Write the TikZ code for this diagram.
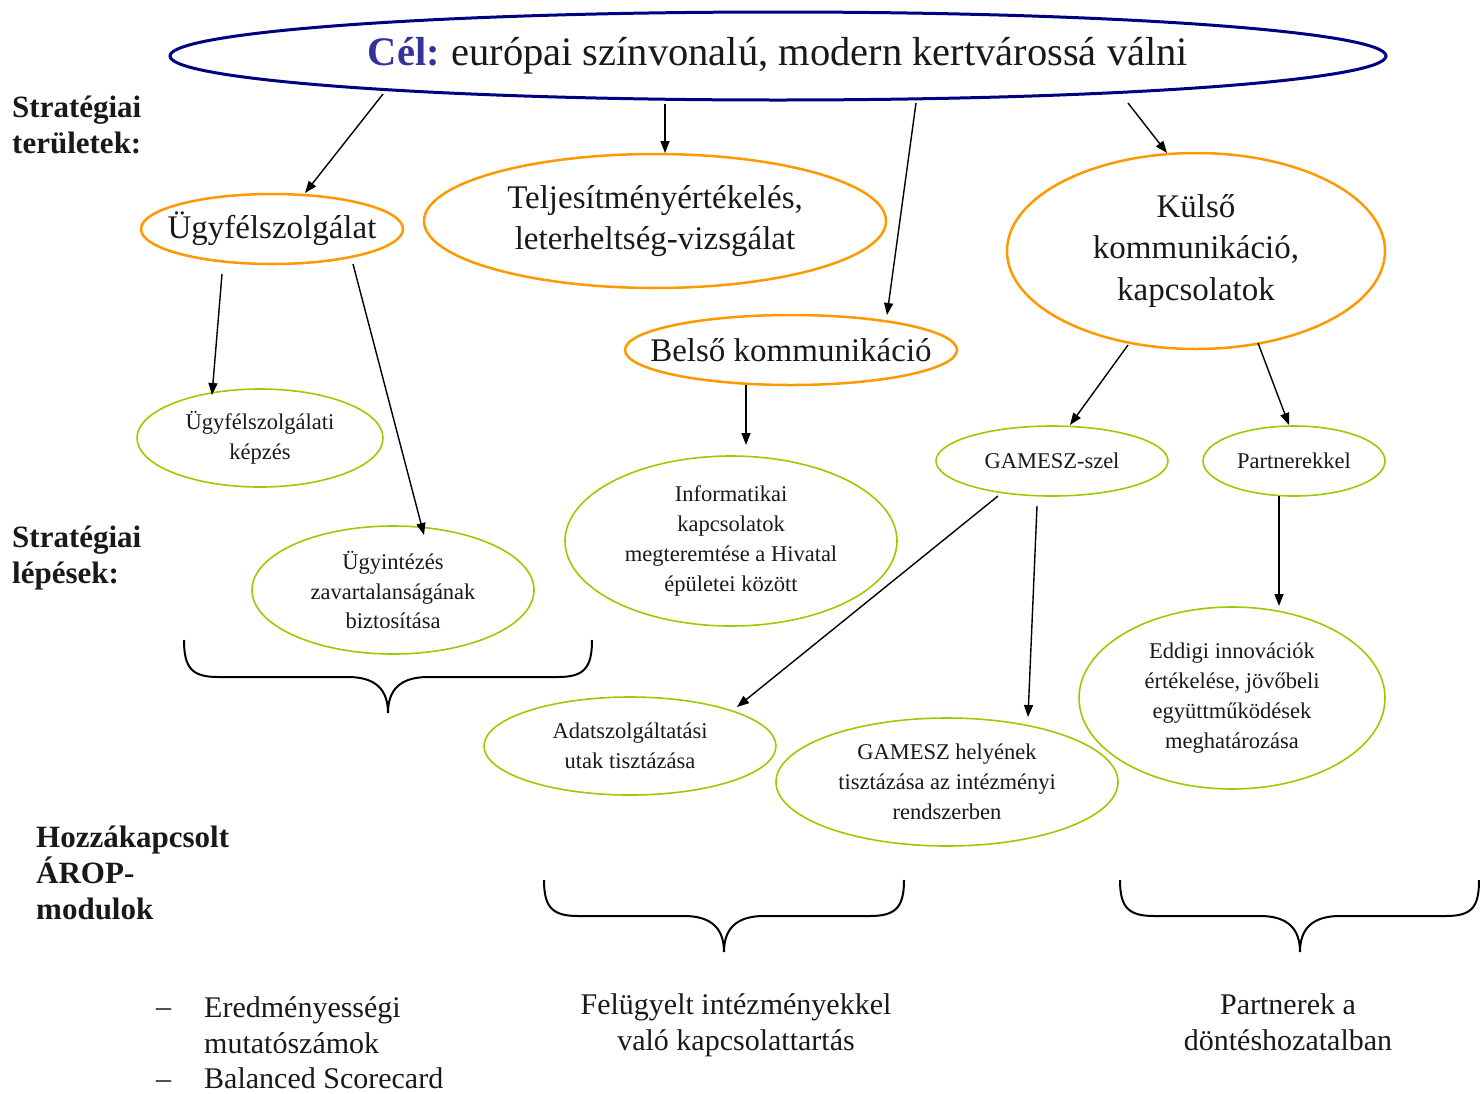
\documentclass[tikz,border=0pt]{standalone}
\usepackage{fontspec}
\setmainfont{Liberation Serif}
\usetikzlibrary{arrows.meta,shapes.geometric,calc}
\definecolor{navyc}{RGB}{0,0,128}
\definecolor{celc}{RGB}{51,51,153}
\definecolor{orangec}{RGB}{255,153,0}
\definecolor{greenc}{RGB}{153,204,0}
\definecolor{txt}{RGB}{25,25,25}
\begin{document}
\begin{tikzpicture}[x=1pt,y=-1pt,
  every node/.style={text=txt},
  goal/.style={ellipse,draw=navyc,line width=3pt,inner sep=0pt,outer sep=0pt,font=\fontsize{40.5}{48}\selectfont},
  area/.style={ellipse,draw=orangec,line width=2.5pt,inner sep=0pt,outer sep=0pt,align=center,font=\fontsize{33}{41.5}\selectfont},
  stepell/.style={ellipse,draw=greenc,line width=1.6pt,inner sep=0pt,outer sep=0pt,align=center,font=\fontsize{22.5}{29.8}\selectfont},
  conn/.style={-{Triangle[length=12pt,width=9pt]},line width=1.4pt,black},
  brace/.style={line width=2pt,black},
  sidelabel/.style={anchor=west,align=left,inner sep=0pt,font=\bfseries\fontsize{31}{36}\selectfont},
  module/.style={align=center,font=\fontsize{30}{36}\selectfont},
  dashtxt/.style={anchor=base,inner sep=0pt,font=\fontsize{30}{36}\selectfont}
]
\useasboundingbox (0,0) rectangle (1480,1093);

% goal
\node[goal,minimum width=1216pt,minimum height=88pt] (cel) at (778,56)
  {{\bfseries\color{celc}Cél:}\hspace{-2pt} európai színvonalú, modern kertvárossá válni};

% side labels
\node[sidelabel] (lab1) at (12,125) {Stratégiai\\területek:};
\node[sidelabel] (lab2) at (12,558) {Stratégiai\\lépések:};
\node[sidelabel] (lab3) at (36,873) {Hozzákapcsolt\\ÁROP-\\modulok};

% strategic areas
\node[area,minimum width=262pt,minimum height=70pt] (ugy) at (272,229) {\makebox[0pt]{Ügyfélszolgálat}};
\node[area,minimum width=462pt,minimum height=134pt] (telj) at (655,221) {Teljesítményértékelés,\\leterheltség-vizsgálat};
\node[area,minimum width=332pt,minimum height=70pt] (belso) at (791,350) {\makebox[0pt]{Belső kommunikáció}};
\node[area,minimum width=378pt,minimum height=196pt] (kulso) at (1196,251) {Külső\\kommunikáció,\\kapcsolatok};

% strategic steps
\node[stepell,minimum width=246pt,minimum height=98pt] (kepzes) at (260,438) {Ügyfélszolgálati\\képzés};
\node[stepell,minimum width=282pt,minimum height=128pt] (ugyint) at (393,590) {Ügyintézés\\zavartalanságának\\biztosítása};
\node[stepell,minimum width=332pt,minimum height=170pt] (info) at (731,541) {Informatikai\\kapcsolatok\\megteremtése a Hivatal\\épületei között};
\node[stepell,minimum width=232pt,minimum height=70pt] (gamesz) at (1052,461) {GAMESZ-szel};
\node[stepell,minimum width=182pt,minimum height=70pt] (partner) at (1294,461) {Partnerekkel};
\node[stepell,minimum width=292pt,minimum height=98pt] (adat) at (630,746) {Adatszolgáltatási\\utak tisztázása};
\node[stepell,minimum width=342pt,minimum height=128pt] (ghely) at (947,782) {GAMESZ helyének\\tisztázása az intézményi\\rendszerben};
\node[stepell,minimum width=306pt,minimum height=182pt] (eddigi) at (1232,698) {Eddigi innovációk\\értékelése, jövőbeli\\együttműködések\\meghatározása};

% connectors
\draw[conn] ($(cel.center)+(-395,38)$) -- ($(ugy.center)+(33,-36)$);
\draw[conn] ($(cel.center)+(-113,48)$) -- ($(telj.center)+(10,-68)$);
\draw[conn] ($(cel.center)+(138,47)$) -- ($(belso.center)+(96,-35)$);
\draw[conn] ($(cel.center)+(350,47)$) -- ($(kulso.center)+(-29,-98)$);
\draw[conn] ($(ugy.center)+(-50,45)$) -- ($(kepzes.center)+(-48,-43)$);
\draw[conn] ($(ugy.center)+(81,35)$) -- ($(ugyint.center)+(31,-55)$);
\draw[conn] ($(belso.center)+(-45,35)$) -- ($(info.center)+(15,-96)$);
\draw[conn] ($(kulso.center)+(-68,94)$) -- ($(gamesz.center)+(18,-36)$);
\draw[conn] ($(kulso.center)+(62,92)$) -- ($(partner.center)+(-5,-36)$);
\draw[conn] ($(gamesz.center)+(-54,35)$) -- ($(adat.center)+(107,-39)$);
\draw[conn] ($(gamesz.center)+(-15,45)$) -- ($(ghely.center)+(81,-65)$);
\draw[conn] ($(partner.center)+(-15,35)$) -- ($(eddigi.center)+(47,-92)$);

% braces
\draw[brace] (184,640) .. controls (184,668) and (192,677) .. (218,677) -- (348,677)
  .. controls (376,677) and (388,690) .. (388,713)
  .. controls (388,690) and (400,677) .. (428,677) -- (558,677)
  .. controls (584,677) and (592,668) .. (592,640);
\draw[brace] (544,880) .. controls (544,907) and (552,916) .. (578,916) -- (684,916)
  .. controls (712,916) and (724,929) .. (724,952)
  .. controls (724,929) and (736,916) .. (764,916) -- (870,916)
  .. controls (896,916) and (904,907) .. (904,880);
\draw[brace] (1120,880) .. controls (1120,907) and (1128,916) .. (1154,916) -- (1260,916)
  .. controls (1288,916) and (1300,929) .. (1300,952)
  .. controls (1300,929) and (1312,916) .. (1340,916) -- (1446,916)
  .. controls (1472,916) and (1479,907) .. (1479,880);

% modules
\node[dashtxt] (dash1) at (163.5,1016) {–};
\node[module,anchor=west,align=left,inner sep=0pt] (mod1) at (204,1025) {Eredményességi\\mutatószámok};
\node[dashtxt] (dash2) at (163.5,1088) {–};
\node[dashtxt,anchor=base west] (mod2) at (204,1088) {Balanced Scorecard};
\node[module] (mod3) at (736,1025) {Felügyelt intézményekkel\\való kapcsolattartás};
\node[module] (mod4) at (1288,1022) {Partnerek a\\döntéshozatalban};
\end{tikzpicture}
\end{document}
